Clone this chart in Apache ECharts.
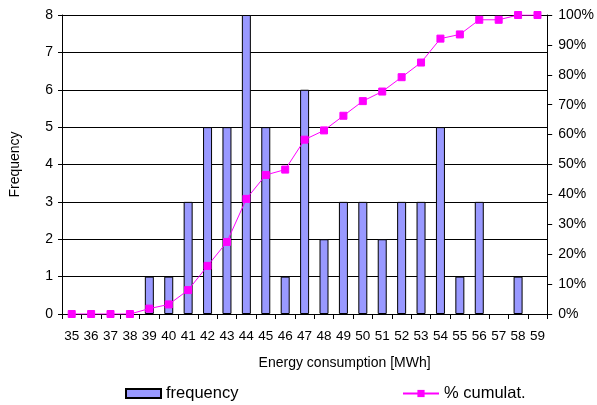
<!DOCTYPE html>
<html>
<head>
<meta charset="utf-8">
<script src="https://cdn.jsdelivr.net/npm/echarts@6/dist/echarts.min.js"></script>
<style>html,body{margin:0;padding:0;background:#fff}#c{width:597px;height:405px}</style>
</head>
<body>
<div id="c"></div>
<script>
var categories = ['35','36','37','38','39','40','41','42','43','44','45','46','47','48','49','50','51','52','53','54','55','56','57','58','59'];
var frequency = [0,0,0,0,1,1,3,5,5,8,5,1,6,2,3,3,2,3,3,5,1,3,0,1,0];
var cumulative = [0,0,0,0,1.8,3.2,8.0,16.1,24.1,38.5,46.5,48.3,58.3,61.4,66.3,71.2,74.4,79.2,84.1,92.1,93.5,98.4,98.4,100,100];
var leftTicks = {min:0, max:8, interval:1};
var rightTicks = {min:0, max:100, interval:10};

var FONT = 'Liberation Sans, Arial, sans-serif';
// empty classes draw no bar (avoid a zero-height bordered sliver)
var barData = frequency.map(function(v){ return v === 0 ? null : v; });
var chart = echarts.init(document.getElementById('c'), null, {renderer:'canvas'});
chart.setOption({
  animation:false,
  backgroundColor:'#fff',
  textStyle:{fontFamily:FONT,color:'#000'},
  grid:{left:55,right:49,top:15,bottom:91,containLabel:false},
  legend:[
    {data:[{name:'frequency',icon:'rect'}],left:120,top:380,itemWidth:35,itemHeight:9,
     textStyle:{fontFamily:FONT,fontSize:16.5,color:'#000'}},
    {data:['% cumulat.'],left:397,top:380,itemWidth:36,itemHeight:9,
     textStyle:{fontFamily:FONT,fontSize:16.5,color:'#000'}}
  ],
  xAxis:{
    type:'category',data:categories,boundaryGap:true,
    name:'Energy consumption [MWh]',nameLocation:'middle',nameGap:42,
    nameTextStyle:{fontFamily:FONT,fontSize:14,color:'#000',padding:[0,0,0,80]},
    axisLine:{lineStyle:{color:'#000',width:1}},
    axisTick:{show:true,interval:0,length:5,lineStyle:{color:'#000'}},
    axisLabel:{interval:0,margin:15,fontFamily:FONT,fontSize:13.5,color:'#000'},
    splitLine:{show:false}
  },
  yAxis:[
    {type:'value',min:leftTicks.min,max:leftTicks.max,interval:leftTicks.interval,
     name:'Frequency',nameLocation:'middle',nameGap:40,
     nameTextStyle:{fontFamily:FONT,fontSize:14,color:'#000'},
     axisLine:{show:true,lineStyle:{color:'#000'}},
     axisTick:{show:true,length:4,lineStyle:{color:'#000'}},
     axisLabel:{margin:9,fontFamily:FONT,fontSize:14,color:'#000'},
     splitLine:{show:true,lineStyle:{color:'#000',width:1}}},
    {type:'value',min:rightTicks.min,max:rightTicks.max,interval:rightTicks.interval,position:'right',
     axisLine:{show:true,lineStyle:{color:'#000'}},
     axisTick:{show:true,length:5,lineStyle:{color:'#000'}},
     axisLabel:{margin:11,fontFamily:FONT,fontSize:14,color:'#000',formatter:'{value}%'},
     splitLine:{show:false}}
  ],
  series:[
    {name:'frequency',type:'bar',data:barData,barWidth:9,yAxisIndex:0,
     itemStyle:{color:'#9999FF',borderColor:'#000',borderWidth:1}},
    {name:'% cumulat.',type:'line',data:cumulative,yAxisIndex:1,
     symbol:'rect',symbolSize:7,showSymbol:true,
     lineStyle:{color:'#FF00FF',width:1},
     itemStyle:{color:'#FF00FF',borderColor:'#FF00FF'}}
  ]
});
</script>
</body>
</html>
